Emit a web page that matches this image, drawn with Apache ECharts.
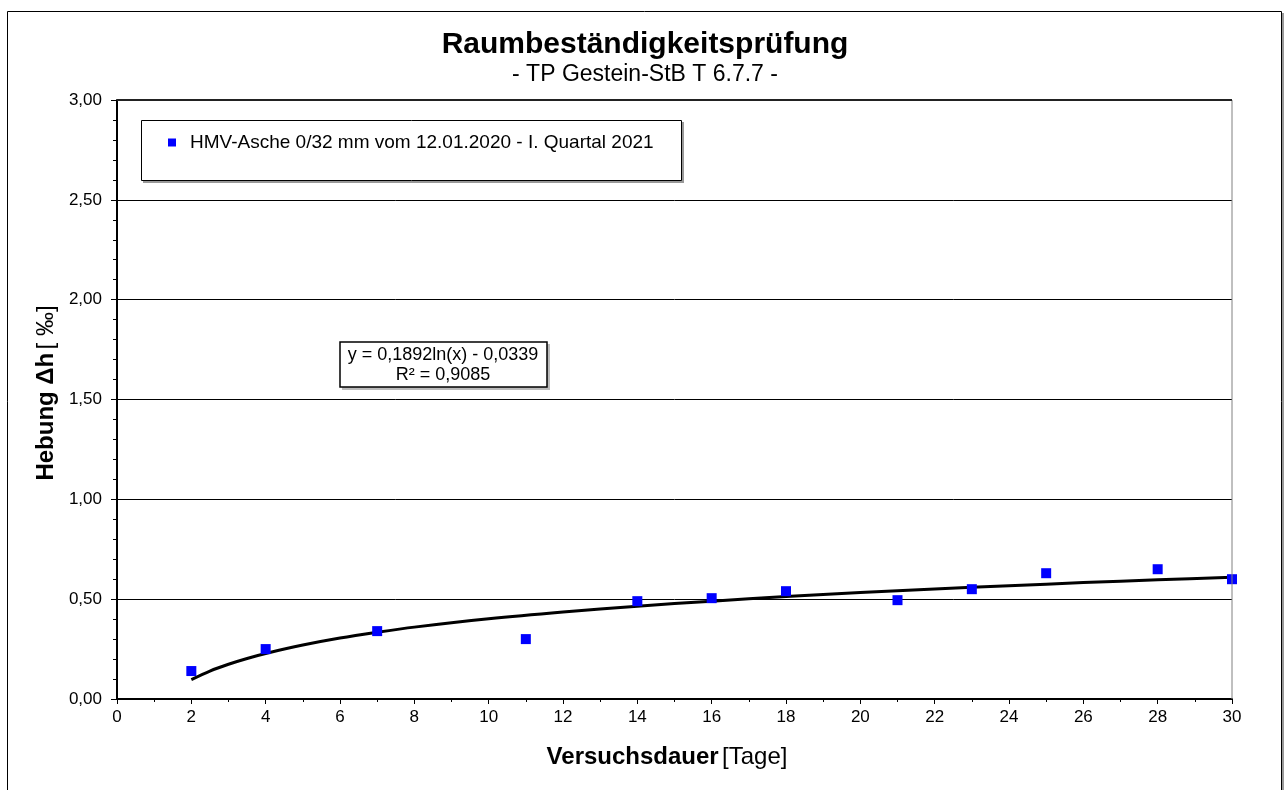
<!DOCTYPE html>
<html>
<head>
<meta charset="utf-8">
<script src="https://cdn.jsdelivr.net/npm/echarts@6/dist/echarts.min.js"></script>
<style>html,body{margin:0;padding:0;background:#fff;}#c{width:1284px;height:790px;}</style>
</head>
<body>
<div id="c"></div>
<script>
// Measured points (Versuchsdauer [Tage], Hebung [‰])
const days = [2, 4, 7, 11, 14, 16, 18, 21, 23, 25, 28, 30];
const heave = [0.14, 0.25, 0.34, 0.30, 0.49, 0.505, 0.54, 0.495, 0.55, 0.63, 0.65, 0.60];
// Trend curve
const trendDays = [2, 2.5, 3, 3.5, 4, 5, 6, 7, 8, 10, 12, 14, 16, 18, 20, 22, 24, 26, 28, 30];
const trendHeave = [0.097, 0.14, 0.174, 0.203, 0.228, 0.27, 0.305, 0.334, 0.36, 0.402, 0.436, 0.465, 0.49, 0.513, 0.533, 0.551, 0.567, 0.583, 0.597, 0.61];
const seriesName = 'HMV-Asche 0/32 mm vom 12.01.2020 - I. Quartal 2021';
const xTicks = {min: 0, max: 30, interval: 2};
const yTicks = {min: 0, max: 3, interval: 0.5};

const FONT = 'Liberation Sans, Arial, sans-serif';
const chart = echarts.init(document.getElementById('c'), null, {renderer: 'canvas'});
const fmt = v => v.toFixed(2).replace('.', ',');

chart.setOption({
  backgroundColor: '#fff',
  animation: false,
  textStyle: {fontFamily: FONT},
  grid: {left: 117, right: 52, top: 100, bottom: 91, containLabel: false},
  legend: {
    data: [{name: seriesName, icon: 'rect'}],
    left: 163, top: 128,
    itemWidth: 8, itemHeight: 8,
    textStyle: {fontFamily: FONT, fontSize: 19, color: '#000', padding: [0, 0, 0, 9]},
    selectedMode: false
  },
  xAxis: {
    type: 'value',
    min: xTicks.min, max: xTicks.max, interval: xTicks.interval,
    axisLine: {show: true, onZero: false, lineStyle: {color: '#000', width: 2}},
    axisTick: {show: true, length: 5, lineStyle: {color: '#000', width: 1}},
    minorTick: {show: true, splitNumber: 2, length: 3, lineStyle: {color: '#000'}},
    splitLine: {show: false},
    axisLabel: {color: '#000', fontSize: 17, fontFamily: FONT, margin: 10}
  },
  yAxis: {
    type: 'value',
    min: yTicks.min, max: yTicks.max, interval: yTicks.interval,
    axisLine: {show: true, lineStyle: {color: '#000', width: 2}},
    axisTick: {show: true, length: 6, lineStyle: {color: '#000', width: 1}},
    minorTick: {show: true, splitNumber: 5, length: 4, lineStyle: {color: '#000'}},
    splitLine: {show: true, lineStyle: {color: '#000', width: 1}},
    axisLabel: {color: '#000', fontSize: 17, fontFamily: FONT, margin: 15, formatter: fmt}
  },
  graphic: [
    {type: 'rect', shape: {x: 7.5, y: 11.5, width: 1274, height: 800}, silent: true, z: -10,
     style: {fill: '#fff', stroke: '#000', lineWidth: 1}},
    {type: 'line', shape: {x1: 1283, y1: 13, x2: 1283, y2: 790}, silent: true, z: -9,
     style: {stroke: '#999', lineWidth: 2}},
    {type: 'line', shape: {x1: 1232, y1: 100, x2: 1232, y2: 699}, silent: true, z: 5,
     style: {stroke: '#808080', lineWidth: 1}},
    {type: 'line', shape: {x1: 117, y1: 100, x2: 1232, y2: 100}, silent: true, z: 5,
     style: {stroke: '#222', lineWidth: 2}},
    // title
    {type: 'text', x: 645, y: 45, silent: true, z: 11,
     style: {text: 'Raumbeständigkeitsprüfung', font: 'bold 30px ' + FONT, fill: '#000', textAlign: 'center', textVerticalAlign: 'middle'}},
    {type: 'text', x: 645, y: 75, silent: true, z: 11,
     style: {text: '- TP Gestein-StB T 6.7.7 -', font: '23px ' + FONT, fill: '#000', textAlign: 'center', textVerticalAlign: 'middle'}},
    // legend box
    {type: 'rect', shape: {x: 143, y: 122, width: 541, height: 61}, silent: true, z: 0,
     style: {fill: '#999', stroke: null}},
    {type: 'rect', shape: {x: 141.5, y: 120.5, width: 540, height: 60}, silent: true, z: 1,
     style: {fill: '#fff', stroke: '#000', lineWidth: 1}},
    // equation box
    {type: 'rect', shape: {x: 342, y: 344, width: 208, height: 46}, silent: true, z: 9,
     style: {fill: '#bbb', stroke: null}},
    {type: 'rect', shape: {x: 340, y: 342, width: 207, height: 45}, silent: true, z: 10,
     style: {fill: '#fff', stroke: '#000', lineWidth: 1.5}},
    {type: 'text', x: 443, y: 355, silent: true, z: 11,
     style: {text: 'y = 0,1892ln(x) - 0,0339', font: '18px ' + FONT, fill: '#000', textAlign: 'center', textVerticalAlign: 'middle'}},
    {type: 'text', x: 443, y: 375, silent: true, z: 11,
     style: {text: 'R² = 0,9085', font: '18px ' + FONT, fill: '#000', textAlign: 'center', textVerticalAlign: 'middle'}},
    // axis titles
    {type: 'text', x: 667, y: 757, silent: true, z: 11,
     style: {text: '{b|Versuchsdauer} {n|[Tage]}', textAlign: 'center', textVerticalAlign: 'middle', fill: '#000',
       rich: {b: {fontFamily: FONT, fontSize: 24, fontWeight: 'bold', fill: '#000'}, n: {fontFamily: FONT, fontSize: 24, fill: '#000'}}}},
    {type: 'text', x: 46, y: 393, rotation: Math.PI / 2, silent: true, z: 11,
     style: {text: '{b|Hebung Δh} {n|[ ‰]}', textAlign: 'center', textVerticalAlign: 'middle', fill: '#000',
       rich: {b: {fontFamily: FONT, fontSize: 24, fontWeight: 'bold', fill: '#000'}, n: {fontFamily: FONT, fontSize: 24, fill: '#000'}}}}
  ],
  series: [
    {
      name: 'Trend',
      type: 'line',
      data: trendDays.map((d, i) => [d, trendHeave[i]]),
      smooth: 0.3,
      showSymbol: false,
      lineStyle: {color: '#000', width: 3},
      z: 3,
      silent: true
    },
    {
      name: seriesName,
      type: 'scatter',
      data: days.map((d, i) => [d, heave[i]]),
      symbol: 'rect',
      symbolSize: 10,
      itemStyle: {color: '#0000ff', opacity: 1},
      z: 4
    }
  ]
});
</script>
</body>
</html>
